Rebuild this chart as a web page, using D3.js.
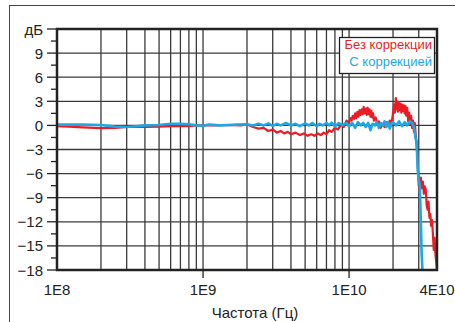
<!DOCTYPE html>
<html>
<head>
<meta charset="utf-8">
<script src="https://cdn.jsdelivr.net/npm/d3@7"></script>
<style>
  body { margin: 0; background: #fff; }
  svg { display: block; font-family: "Liberation Sans", Arial, sans-serif; }
</style>
</head>
<body>
<svg id="chart" width="455" height="322"></svg>
<script>
// frequency in GHz, level in dB
const redFreq = [0.1, 0.12, 0.15, 0.2, 0.25, 0.3, 0.4, 0.5, 0.6, 0.7, 0.8, 1.0, 1.2, 1.5, 1.8, 2.0,
  2.2, 2.4, 2.6, 2.8, 3.0, 3.2, 3.4, 3.6, 3.8, 4.0, 4.3, 4.6, 4.9, 5.2, 5.5, 5.8, 6.1, 6.4, 6.7,
  7.0, 7.3, 7.6, 8.0, 8.4, 8.8, 9.2, 9.6, 10, 10.2, 10.4, 10.6, 10.8, 11.0, 11.2, 11.4, 11.6, 11.8,
  12.0, 12.2, 12.4, 12.6, 12.8, 13.0, 13.2, 13.4, 13.6, 13.8, 14.0, 14.2, 14.4, 14.6, 14.8, 15.2,
  15.6, 16.0, 16.5, 17, 17.5, 18, 18.5, 19, 19.5, 20, 20.3, 20.6, 20.9, 21.1, 21.3, 21.6, 21.9,
  22.2, 22.5, 22.8, 23.1, 23.4, 23.7, 24, 24.3, 24.6, 25, 25.4, 25.8, 26.2, 26.6, 27, 27.4, 27.8,
  28.2, 28.6, 29, 29.5, 30, 30.5, 31, 31.5, 32, 32.5, 33, 33.5, 34, 34.5, 35, 35.5, 36, 36.5, 37,
  37.5, 38, 38.5, 39, 39.5, 40];
const redDb = [-0.1, -0.15, -0.25, -0.35, -0.3, -0.2, -0.2, -0.15, -0.1, -0.1, -0.05, 0, 0, 0.05, 0, 0.1,
  -0.2, -0.4, -0.3, -0.7, -0.5, -0.9, -0.7, -1.0, -0.8, -1.1, -0.9, -1.2, -1.0, -1.3, -1.1, -1.3, -1.0, -1.2, -0.9,
  -1.1, -0.6, -0.8, -0.3, -0.5, 0.1, -0.2, 0.6, 0.3, 0.9, 0.6, 1.2, 0.8, 1.5, 0.9, 1.7, 1.1, 1.9,
  1.3, 2.0, 1.4, 2.3, 1.5, 2.1, 1.3, 2.2, 1.4, 2.0, 1.1, 1.8, 1.0, 1.5, 0.6, 1.0,
  0.2, 0.5, -0.3, 0.2, -0.2, 0.4, 0, 0.6, 0.2, 1.5, 2.6, 1.6, 3.4, 2.0, 3.0, 1.7, 2.9,
  1.9, 2.7, 1.6, 2.6, 1.8, 2.5, 1.5, 2.4, 1.2, 2.2, 0.5, 1.6, 0.2, 1.2, -0.3, 0.6, -0.8,
  0.3, -1.2, -2.5, -4.5, -7.5, -8.2, -6.5, -7.8, -7.0, -8.5, -7.6, -8.0, -10.0, -10.5, -9.5, -11.5, -11, -12.5, -11.8,
  -13.5, -15.5, -14, -16, -17, -18];

const blueFreq = [0.1, 0.15, 0.2, 0.25, 0.3, 0.35, 0.4, 0.5, 0.6, 0.7, 0.8, 0.9, 1.0, 1.1, 1.3, 1.5, 1.7,
  2.0, 2.2, 2.4, 2.6, 2.8, 3.0, 3.2, 3.4, 3.7, 4.0, 4.3, 4.6, 5.0, 5.3, 5.6, 6.0, 6.3, 6.6, 7.0,
  7.3, 7.6, 8.0, 8.5, 9.0, 9.5, 10, 10.5, 11, 11.5, 12, 12.5, 13, 13.5, 14, 14.5, 15, 15.5, 16,
  16.5, 17, 17.5, 18, 18.5, 19, 19.5, 20, 21, 22, 23, 24, 25, 26, 27, 27.5, 28, 28.5, 29, 29.5,
  30, 30.5, 31, 31.4, 31.8];
const blueDb = [0.1, 0.1, 0.05, -0.15, -0.2, -0.1, 0, 0.05, 0.2, 0.2, 0.15, 0, -0.05, 0.1, 0, 0.05, 0.1,
  0.15, 0, 0.2, 0, 0.25, -0.05, 0.2, 0, 0.3, 0, 0.2, -0.1, 0.25, 0, 0.3, -0.1, 0.2, 0, 0.3,
  0, 0.35, -0.15, 0.3, 0, 0.3, -0.1, 0.3, -0.3, 0.4, 0, 0.3, -0.2, 0.3, -0.6, 0.2, 0, 0.4, -0.3,
  0.3, 0, 0.5, -0.2, 0.4, -0.4, 0.2, 0.4, 0, 0.5, -0.1, 0.4, 0, 0.5, 0.3, 0, -0.5, -1.6, -2.0, -5.5,
  -6.8, -7.5, -12, -16, -18];

const yTicks = [-18, -15, -12, -9, -6, -3, 0, 3, 6, 9];
const xLabels = [[0.1, "1E8"], [1, "1E9"], [10, "1E10"], [40, "4E10"]];
const xGrid = [0.2, 0.3, 0.4, 0.5, 0.6, 0.7, 0.8, 0.9, 1, 2, 3, 4, 5, 6, 7, 8, 9, 10, 20, 30];
const legendItems = [["Без коррекции", "#ec1c24"], ["С коррекцией", "#1ba8e4"]];

const svg = d3.select("#chart");
const plotLeft = 57, plotRight = 437, plotTop = 29, plotBottom = 270;

const x = d3.scaleLog().domain([0.1, 40]).range([plotLeft, plotRight]);
const y = d3.scaleLinear().domain([-18, 12]).range([plotBottom, plotTop]);

// outer frame (cut by the picture edge)
svg.append("rect")
  .attr("x", 9.5).attr("y", 5.5).attr("width", 500).attr("height", 400)
  .attr("fill", "none").attr("stroke", "#444").attr("stroke-width", 1);

// grid
svg.append("g").selectAll("line").data(xGrid).join("line")
  .attr("x1", (d) => x(d)).attr("x2", (d) => x(d))
  .attr("y1", plotTop).attr("y2", plotBottom)
  .attr("stroke", "#3a3a3a").attr("stroke-width", 1.3);
svg.append("g").selectAll("line").data(yTicks.slice(1)).join("line")
  .attr("x1", plotLeft).attr("x2", plotRight)
  .attr("y1", (d) => y(d)).attr("y2", (d) => y(d))
  .attr("stroke", "#3a3a3a").attr("stroke-width", 1.3);

// y ticks: major every 3 dB, minor in between
const yMinor = d3.range(-16.5, 12, 3);
svg.append("g").selectAll("line").data(yTicks.concat([12])).join("line")
  .attr("x1", plotLeft - 10).attr("x2", plotLeft)
  .attr("y1", (d) => y(d)).attr("y2", (d) => y(d))
  .attr("stroke", "#222").attr("stroke-width", 1.3);
svg.append("g").selectAll("line").data(yMinor).join("line")
  .attr("x1", plotLeft - 6).attr("x2", plotLeft)
  .attr("y1", (d) => y(d)).attr("y2", (d) => y(d))
  .attr("stroke", "#222").attr("stroke-width", 1.3);

// x ticks below the axis
svg.append("g").selectAll("line").data([1, 10]).join("line")
  .attr("x1", (d) => x(d)).attr("x2", (d) => x(d))
  .attr("y1", plotBottom).attr("y2", plotBottom + 8)
  .attr("stroke", "#222").attr("stroke-width", 1.3);

// curves
const line = d3.line().x((d) => x(d[0])).y((d) => y(d[1]));
svg.append("clipPath").attr("id", "plot-clip")
  .append("rect").attr("x", plotLeft).attr("y", plotTop)
  .attr("width", plotRight - plotLeft).attr("height", plotBottom - plotTop + 1);

svg.append("path")
  .datum(d3.zip(redFreq, redDb))
  .attr("d", line)
  .attr("clip-path", "url(#plot-clip)")
  .attr("fill", "none").attr("stroke", legendItems[0][1]).attr("stroke-width", 2.2)
  .attr("stroke-linejoin", "round");
svg.append("path")
  .datum(d3.zip(blueFreq, blueDb))
  .attr("d", line)
  .attr("clip-path", "url(#plot-clip)")
  .attr("fill", "none").attr("stroke", legendItems[1][1]).attr("stroke-width", 2.6)
  .attr("stroke-linejoin", "round");

// plot border
svg.append("rect")
  .attr("x", plotLeft).attr("y", plotTop).attr("width", plotRight - plotLeft).attr("height", plotBottom - plotTop)
  .attr("fill", "none").attr("stroke", "#222").attr("stroke-width", 2.5);

// y labels
svg.append("g").selectAll("text").data(yTicks).join("text")
  .attr("x", 43).attr("y", (d) => y(d) + 5.5)
  .attr("text-anchor", "end").attr("font-size", 15).attr("fill", "#222")
  .text((d) => d < 0 ? "\u2212" + Math.abs(d) : d);
svg.append("text").attr("x", 43).attr("y", y(12) + 5.5)
  .attr("text-anchor", "end").attr("font-size", 15).attr("fill", "#222").text("дБ");

// x labels
svg.append("g").selectAll("text").data(xLabels).join("text")
  .attr("x", (d) => x(d[0])).attr("y", 295)
  .attr("text-anchor", "middle").attr("font-size", 15).attr("fill", "#222")
  .text((d) => d[1]);
svg.append("text").attr("x", 255).attr("y", 318)
  .attr("text-anchor", "middle").attr("font-size", 15).attr("fill", "#222")
  .text("Частота (Гц)");

// legend
svg.append("rect")
  .attr("x", 339.5).attr("y", 37.5).attr("width", 95).attr("height", 36)
  .attr("fill", "#fff").attr("stroke", "#222").attr("stroke-width", 1.3);
svg.append("g").selectAll("text").data(legendItems).join("text")
  .attr("x", 432).attr("y", (d, i) => 49 + i * 17)
  .attr("text-anchor", "end").attr("font-size", 13)
  .attr("fill", (d) => d[1])
  .text((d) => d[0]);
</script>
</body>
</html>
